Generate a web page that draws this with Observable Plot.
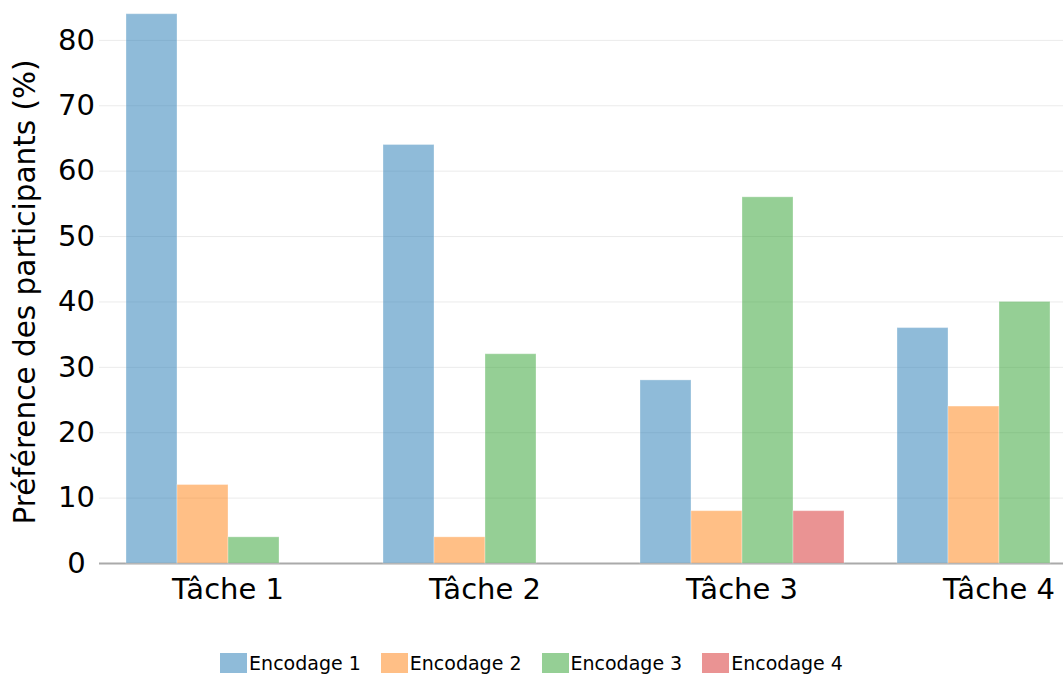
<!DOCTYPE html>
<html>
<head>
<meta charset="utf-8">
<script src="https://cdn.jsdelivr.net/npm/d3@7"></script>
<script src="https://cdn.jsdelivr.net/npm/@observablehq/plot@0.6"></script>
<style>
  html, body { margin: 0; padding: 0; background: #fff; }
  #wrap { position: relative; width: 1063px; height: 675px; overflow: hidden; font-family: "DejaVu Sans", sans-serif; }
  #chart { position: absolute; left: 0; top: 0; width: 1127px; }
  #chart svg { max-width: none !important; }
  #legend { position: absolute; left: 0; top: 646px; width: 1063px; display: flex; justify-content: center; }
  #legend .lg-swatches { justify-content: center; font-family: "DejaVu Sans", sans-serif !important; font-size: 19px !important; color: #000; min-height: 33px; }
  #legend .lg-swatch { margin-right: 20px !important; }
  #legend .lg-swatch:last-child { margin-right: 0 !important; }
  #legend .lg-swatch svg { margin-right: 2px !important; }
</style>
</head>
<body>
<div id="wrap">
  <div id="chart"></div>
  <div id="legend"></div>
</div>
<script>
const tasks = ["Tâche 1", "Tâche 2", "Tâche 3", "Tâche 4"];
const encodings = ["Encodage 1", "Encodage 2", "Encodage 3", "Encodage 4"];
const encodage1 = [84, 64, 28, 36];
const encodage2 = [12, 4, 8, 24];
const encodage3 = [4, 32, 56, 40];
const encodage4 = [0, 0, 8, 0];
const yTicks = [0, 10, 20, 30, 40, 50, 60, 70, 80];
const colors = ["#1f77b4", "#ff7f0e", "#2ca02c", "#d62728"];
const yLabel = "Préférence des participants (%)";

const series = [encodage1, encodage2, encodage3, encodage4];
const data = [];
tasks.forEach((t, i) => {
  encodings.forEach((e, j) => {
    data.push({task: t, enc: e, value: series[j][i]});
  });
});

const chart = Plot.plot({
  width: 1127,
  height: 625,
  marginLeft: 98,
  marginRight: 0,
  marginTop: 0,
  marginBottom: 62,
  style: {fontFamily: "DejaVu Sans, sans-serif", background: "white", overflow: "visible", maxWidth: "none"},
  fx: {domain: tasks, padding: 0, label: null},
  x: {domain: encodings, paddingInner: 0, paddingOuter: 0.5, axis: null},
  y: {domain: [0, 86.1], label: null},
  color: {domain: encodings, range: colors},
  marks: [
    Plot.gridY(yTicks, {stroke: "#ebebeb", strokeOpacity: 1, strokeWidth: 1}),
    Plot.ruleY([0], {stroke: "#aaaaaa", strokeWidth: 2}),
    Plot.barY(data, {fx: "task", x: "enc", y: "value", fill: "enc", fillOpacity: 0.5,
      stroke: "white", strokeOpacity: 0.3, strokeWidth: 1}),
    Plot.axisY(yTicks, {tickSize: 0, tickPadding: 0, textAnchor: "middle", dx: -23, fontSize: 29,
      label: null, color: "#000"}),
    Plot.text([yLabel], {facet: "super", text: d => d, frameAnchor: "left", rotate: -90,
      textAnchor: "middle", lineAnchor: "middle", fontSize: 29.5, dx: -74, dy: 10, fill: "#000"}),
    Plot.axisFx({anchor: "bottom", tickSize: 0, tickPadding: 15, fontSize: 29, label: null, color: "#000"})
  ]
});
document.getElementById("chart").appendChild(chart);

const legend = Plot.legend({
  color: {domain: encodings, range: colors},
  opacity: 0.5,
  swatchWidth: 27,
  swatchHeight: 20,
  className: "lg"
});
document.getElementById("legend").appendChild(legend);
</script>
</body>
</html>
